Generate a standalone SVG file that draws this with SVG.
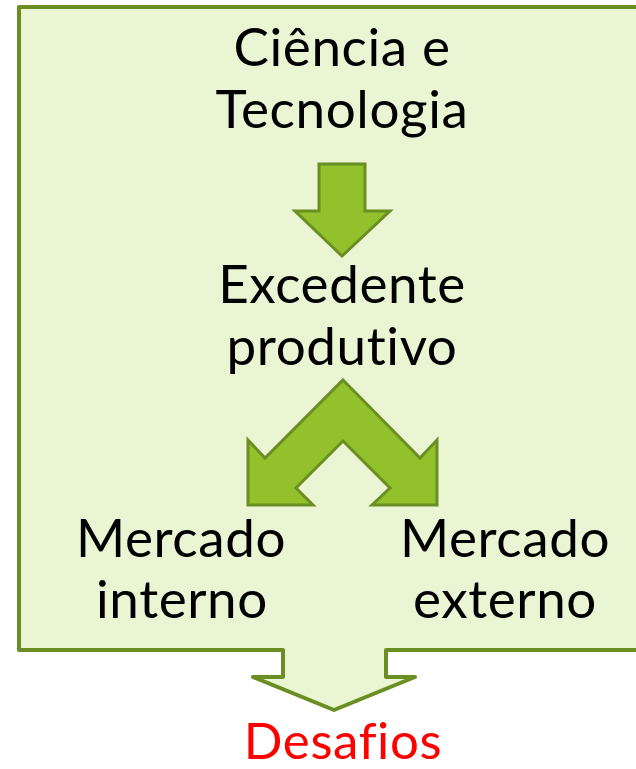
<svg xmlns="http://www.w3.org/2000/svg" width="636" height="769" viewBox="0 0 636 769">
<style>
.t{font-family:Lato,"Open Sans","DejaVu Sans",sans-serif;font-size:53px;letter-spacing:0.6px;fill:#000;text-anchor:middle;font-variant-ligatures:none}
.r{fill:#FF0000;font-size:51px}
.arw{fill:#92C12B;stroke:#6B8E23;stroke-width:3;stroke-linejoin:miter}
</style>
<rect width="636" height="769" fill="#FFFFFF"/>
<g id="frame">
<path d="M19,7 H642 V650 H386 V677 H415 L334,710 L253,677 H283 V650 H19 Z" fill="#EAF5D4" stroke="#6B8E23" stroke-width="4" stroke-linejoin="round"/>
</g>
<g id="connectors">
<path class="arw" d="M319,164 H365 V211 H390 L342,256 L295,211 H319 Z"/>
<path class="arw" d="M343,380 L420,458 L437,440 V505 H372 L390,488 L343,441 L296,488 L313,505 H248 V440 L265,458 Z"/>
</g>
<g id="ciencia"><text class="t" x="342" y="66">Ciência e</text><text class="t" x="342" y="128">Tecnologia</text></g>
<g id="excedente"><text class="t" x="342" y="303">Excedente</text><text class="t" x="342" y="365">produtivo</text></g>
<g id="interno"><text class="t" x="181" y="557">Mercado</text><text class="t" x="182" y="618">interno</text></g>
<g id="externo"><text class="t" x="505" y="557">Mercado</text><text class="t" x="505" y="618">externo</text></g>
<g id="desafios"><text class="t r" x="343" y="759">Desafios</text></g>
</svg>
